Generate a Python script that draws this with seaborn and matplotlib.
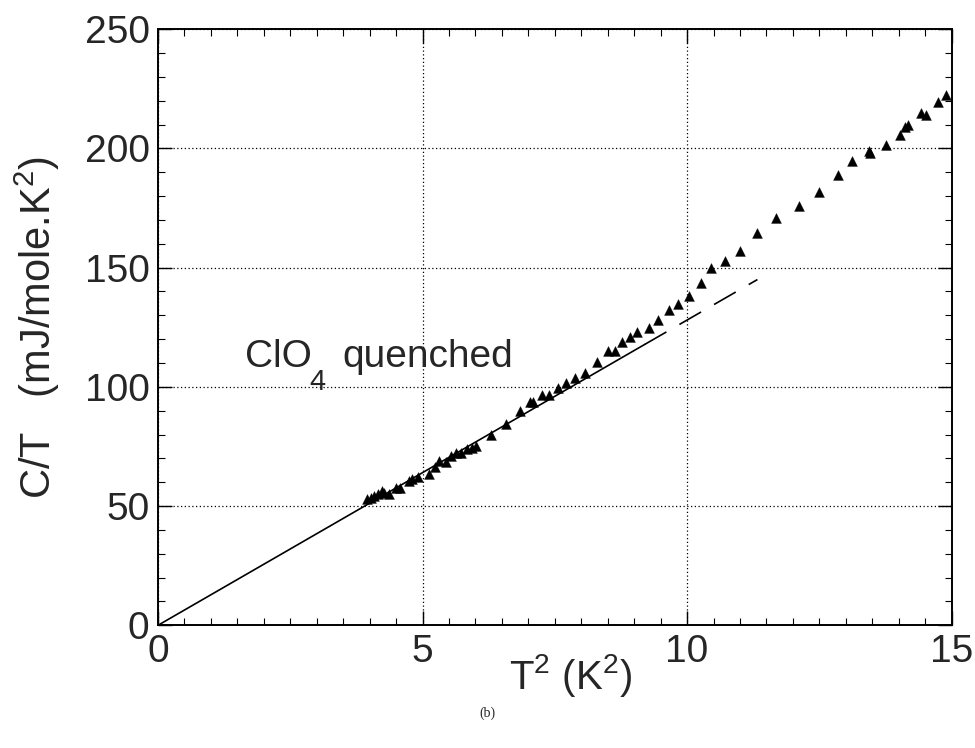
import matplotlib
matplotlib.use("Agg")
import matplotlib.pyplot as plt
import seaborn as sns
import pandas as pd
from matplotlib.ticker import MultipleLocator

# ---- data ----
T2 = [3.96, 4.02, 4.09, 4.16, 4.23, 4.28, 4.37, 4.50, 4.58, 4.75, 4.81, 4.92,
      5.13, 5.24, 5.32, 5.45, 5.54, 5.63, 5.73, 5.84, 5.93, 6.01, 6.30, 6.58,
      6.84, 7.03, 7.09, 7.26, 7.40, 7.56, 7.72, 7.89, 8.08, 8.29, 8.51, 8.64,
      8.78, 8.92, 9.05, 9.29, 9.46, 9.65, 9.83, 10.04, 10.26, 10.46, 10.71,
      11.01, 11.33, 11.69, 12.11, 12.49, 12.85, 13.11, 13.43, 13.46, 13.76,
      14.03, 14.12, 14.17, 14.43, 14.52, 14.74, 14.90]
CT = [52.9, 53.2, 54.2, 55.0, 56.4, 55.4, 55.0, 57.4, 57.4, 60.5, 61.2, 62.4,
      63.3, 66.4, 68.9, 68.5, 71.0, 72.1, 72.4, 74.0, 74.4, 75.4, 80.0, 84.4,
      90.0, 93.5, 93.5, 96.7, 96.7, 99.5, 101.5, 103.6, 106.0, 110.5, 115.1,
      115.1, 118.9, 121.0, 123.0, 124.8, 128.2, 132.1, 134.9, 138.3, 143.5,
      149.7, 152.6, 157.1, 164.7, 171.0, 176.0, 181.8, 188.8, 194.6, 199.0,
      198.0, 201.5, 205.7, 209.0, 209.8, 215.0, 213.8, 219.3, 222.5]

fit_solid_x = [0.0, 9.2]
fit_solid_y = [0.0, 117.8]
fit_dash_x = [9.2, 11.33]
fit_dash_y = [117.8, 145.0]

x_ticks = [0, 5, 10, 15]
y_ticks = [0, 50, 100, 150, 200, 250]

sns.set_style("ticks")
plt.rcParams['font.family'] = ['Liberation Sans', 'DejaVu Sans']
plt.rcParams['mathtext.fontset'] = 'custom'
plt.rcParams['mathtext.rm'] = 'Liberation Sans'

fig = plt.figure(figsize=(9.75, 7.48), dpi=100)
ax = fig.add_axes([0.162, 0.164, 0.814, 0.797])

df = pd.DataFrame({"T2": T2, "CT": CT})
sns.scatterplot(data=df, x="T2", y="CT", marker="^", color="black",
                s=50, edgecolor="black", linewidth=0.3, ax=ax, zorder=3)
sns.lineplot(x=fit_solid_x, y=fit_solid_y, color="black", lw=1.2, ax=ax,
             estimator=None, sort=False, zorder=2)
sns.lineplot(x=fit_dash_x, y=fit_dash_y, color="black", lw=1.2, ax=ax,
             estimator=None, sort=False, zorder=2)
ax.lines[-1].set_linestyle((0, (15, 9)))

ax.set_xlim(0, 15)
ax.set_ylim(0, 250)
ax.set_xticks(x_ticks)
ax.set_yticks(y_ticks)
ax.xaxis.set_minor_locator(MultipleLocator(0.5))
ax.yaxis.set_minor_locator(MultipleLocator(10))
ax.grid(True, which="major", color="black", linestyle=(0, (1, 2)), linewidth=0.9)
ax.tick_params(which="both", direction="in", top=True, right=True, color="black")
ax.tick_params(which="major", length=10, width=1.0, labelsize=28, pad=6)
ax.tick_params(which="minor", length=5, width=0.8)
for s in ax.spines.values():
    s.set_color("black")
    s.set_linewidth(1.4)

ax.set_xlabel(r"T$^2$ (K$^2$)", fontsize=29, labelpad=-6)
ax.xaxis.set_label_coords(0.52, -0.045, transform=ax.transAxes)
ax.xaxis.label.set_va("top")
ax.set_ylabel(r"C/T   (mJ/mole.K$^2$)", fontsize=30, labelpad=16)

ax.text(1.65, 108.5, "ClO", fontsize=28, ha="left", va="baseline")
ax.text(2.86, 98.5, "4", fontsize=21, ha="left", va="baseline")
ax.text(3.49, 108.5, "quenched", fontsize=28, ha="left", va="baseline")

fig.text(0.5, 0.042, "(b)", fontsize=10, family="Liberation Serif", ha="center")

fig.savefig("out.png", dpi=100, facecolor="white")
